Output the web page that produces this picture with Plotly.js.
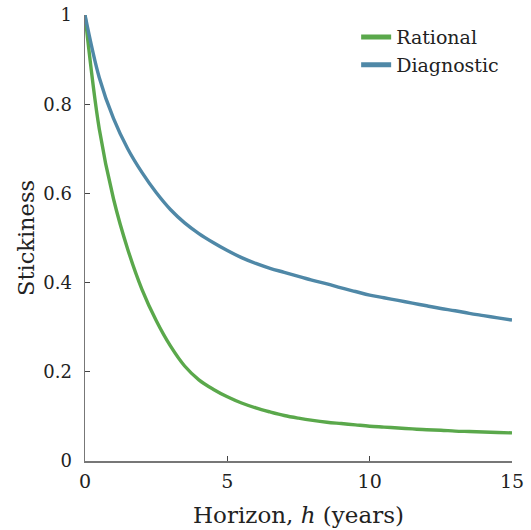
<!DOCTYPE html>
<html>
<head>
<meta charset="utf-8">
<script src="https://cdn.plot.ly/plotly-3.0.1.min.js"></script>
<style>html,body{margin:0;padding:0;background:#fff;}#chart{width:531px;height:530px;}</style>
</head>
<body>
<div id="chart"></div>
<script>
const horizon = [0,0.5,1,1.5,2,2.5,3,3.5,4,4.5,5,5.5,6,6.5,7,7.5,8,8.5,9,9.5,10,10.5,11,11.5,12,12.5,13,13.5,14,14.5,15];
const rational = [1.000,0.745,0.588,0.475,0.385,0.315,0.258,0.213,0.182,0.161,0.144,0.130,0.119,0.110,0.102,0.096,0.091,0.087,0.084,0.081,0.078,0.076,0.074,0.072,0.070,0.069,0.067,0.066,0.065,0.064,0.063];
const diagnostic = [1.000,0.860,0.768,0.700,0.647,0.602,0.564,0.534,0.510,0.490,0.472,0.456,0.443,0.432,0.423,0.414,0.405,0.397,0.388,0.380,0.372,0.366,0.360,0.354,0.348,0.342,0.337,0.331,0.326,0.321,0.316];
const seriesNames = ["Rational","Diagnostic"];
const xTicks = [0,5,10,15];
const yTicks = [0,0.2,0.4,0.6,0.8,1];
const yTickText = ["0","0.2","0.4","0.6","0.8","1"];

const FONT = "DejaVu Serif";
const traces = [
  {x: horizon, y: rational, name: seriesNames[0], mode: "lines",
   line: {color: "#5aa84b", width: 3.4, shape: "spline", smoothing: 1}},
  {x: horizon, y: diagnostic, name: seriesNames[1], mode: "lines",
   line: {color: "#4f88a7", width: 3.4, shape: "spline", smoothing: 1}}
];
const layout = {
  width: 531, height: 530,
  margin: {l: 85, r: 19, t: 15, b: 69},
  paper_bgcolor: "#fff", plot_bgcolor: "#fff",
  font: {family: FONT, size: 18, color: "#222"},
  showlegend: true,
  legend: {x: 0.635, y: 0.993, xanchor: "left", yanchor: "top", bgcolor: "rgba(0,0,0,0)",
           font: {family: FONT, size: 19, color: "#222"}, tracegroupgap: 0, itemsizing: "constant"},
  xaxis: {range: [0, 15], tickvals: xTicks, ticktext: xTicks.map(String),
          showgrid: false, zeroline: false, showline: true, linecolor: "#777", linewidth: 1.5,
          ticks: "inside", ticklen: 5, tickcolor: "#444", tickwidth: 1,
          ticklabelstandoff: 3,
          tickfont: {family: FONT, size: 19, color: "#222"},
          title: {text: "Horizon, <i>h</i> (years)", font: {family: FONT, size: 23, color: "#222"}, standoff: 15}},
  yaxis: {range: [0, 1], tickvals: yTicks, ticktext: yTickText,
          showgrid: false, zeroline: false, showline: true, linecolor: "#777", linewidth: 1.5,
          ticks: "inside", ticklen: 5, tickcolor: "#444", tickwidth: 1,
          ticklabelstandoff: 8,
          tickfont: {family: FONT, size: 18, color: "#222"},
          title: {text: "Stickiness", font: {family: FONT, size: 22.5, color: "#222"}, standoff: 2}}
};
Plotly.newPlot("chart", traces, layout, {displayModeBar: false, staticPlot: true});
</script>
</body>
</html>
